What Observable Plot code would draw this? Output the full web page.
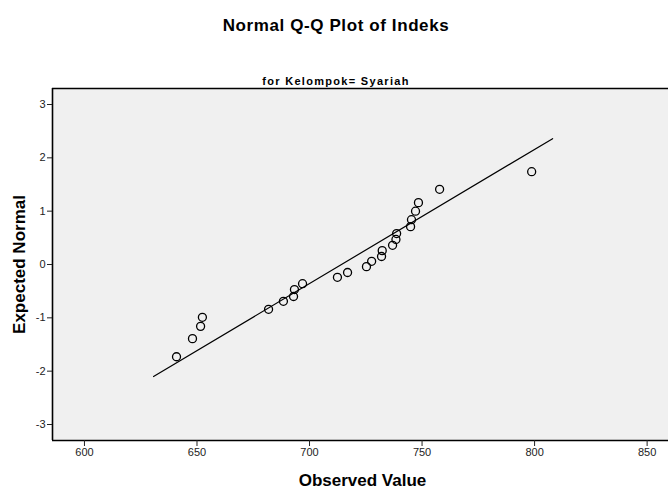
<!DOCTYPE html>
<html>
<head>
<meta charset="utf-8">
<style>
  body { margin: 0; background: #fff; font-family: "Liberation Sans", Arial, sans-serif; }
  #wrap { position: relative; width: 668px; height: 489px; overflow: hidden; }
  #title { position: absolute; left: 0; top: 16px; width: 672px; text-align: center; font-weight: bold; font-size: 17px; line-height: 20px; letter-spacing: 0.6px; color: #000; white-space: nowrap; }
  #subtitle { position: absolute; left: 0; top: 75px; width: 672px; text-align: center; font-weight: bold; font-size: 11px; line-height: 12px; letter-spacing: 1.3px; color: #000; white-space: nowrap; }
  #chart { position: absolute; left: 0; top: 86px; }
</style>
</head>
<body>
<div id="wrap">
  <div id="title">Normal Q-Q Plot of Indeks</div>
  <div id="subtitle">for Kelompok= Syariah</div>
  <div id="chart"></div>
</div>
<script src="https://cdn.jsdelivr.net/npm/d3@7/dist/d3.min.js"></script>
<script src="https://cdn.jsdelivr.net/npm/@observablehq/plot@0.6/dist/plot.umd.min.js"></script>
<script>
const observed = [640.9, 648.0, 651.6, 652.4, 681.8, 688.4, 692.9, 693.3, 696.9, 712.4, 716.9, 725.3,
                  727.6, 732.0, 732.3, 736.9, 738.4, 738.7, 744.9, 745.3, 747.1, 748.4, 757.8, 798.7];
const expected = [-1.73, -1.39, -1.16, -0.99, -0.84, -0.69, -0.60, -0.47, -0.36, -0.24, -0.15, -0.04,
                  0.06, 0.15, 0.26, 0.36, 0.47, 0.58, 0.71, 0.84, 1.00, 1.16, 1.41, 1.74];
const xTicks = [600, 650, 700, 750, 800, 850];
const yTicks = [-3, -2, -1, 0, 1, 2, 3];
const xLabel = "Observed Value";
const yLabel = "Expected Normal";
const xDomain = [585.8, 859.5];
const yDomain = [-3.3, 3.3];
const mean = 714.2;
const sd = 39.75;
const lineEnds = [630.7, 808.0];

const points = observed.map((v, i) => ({x: v, y: expected[i]}));
const refLine = lineEnds.map(x => ({x, y: (x - mean) / sd}));

const chart = Plot.plot({
  width: 668,
  height: 403,
  marginTop: 2,
  marginLeft: 52,
  marginRight: 0,
  marginBottom: 49,
  style: {fontFamily: '"Liberation Sans", Arial, sans-serif', background: "transparent", overflow: "visible"},
  x: {domain: xDomain},
  y: {domain: yDomain},
  marks: [
    Plot.frame({fill: "#f0f0f0", stroke: "none"}),
    Plot.ruleY([yDomain[1]], {stroke: "#000", strokeWidth: 1.6}),
    Plot.ruleY([yDomain[0]], {stroke: "#000", strokeWidth: 1.6}),
    Plot.ruleX([xDomain[0]], {stroke: "#000", strokeWidth: 1.6}),
    Plot.axisX({ticks: xTicks, tickSize: 6, tickPadding: 2, fontSize: 11, fill: "#222", stroke: "#222", label: null, tickFormat: d => String(d)}),
    Plot.axisY({ticks: yTicks, tickSize: 5, tickPadding: 2, fontSize: 11, fill: "#222", stroke: "#222", label: null, tickFormat: d => String(d)}),
    Plot.text([xLabel], {frameAnchor: "bottom", dy: 45, dx: 2, text: d => d, fontSize: 17, fontWeight: "bold", fill: "#000"}),
    Plot.text([yLabel], {frameAnchor: "left", textAnchor: "middle", dx: -33, rotate: -90, text: d => d, fontSize: 17, fontWeight: "bold", fill: "#000"}),
    Plot.line(refLine, {x: "x", y: "y", stroke: "#000", strokeWidth: 1.2}),
    Plot.dot(points, {x: "x", y: "y", r: 4, stroke: "#000", strokeWidth: 1.3, fill: "none"})
  ]
});
document.getElementById("chart").appendChild(chart);
</script>
</body>
</html>
